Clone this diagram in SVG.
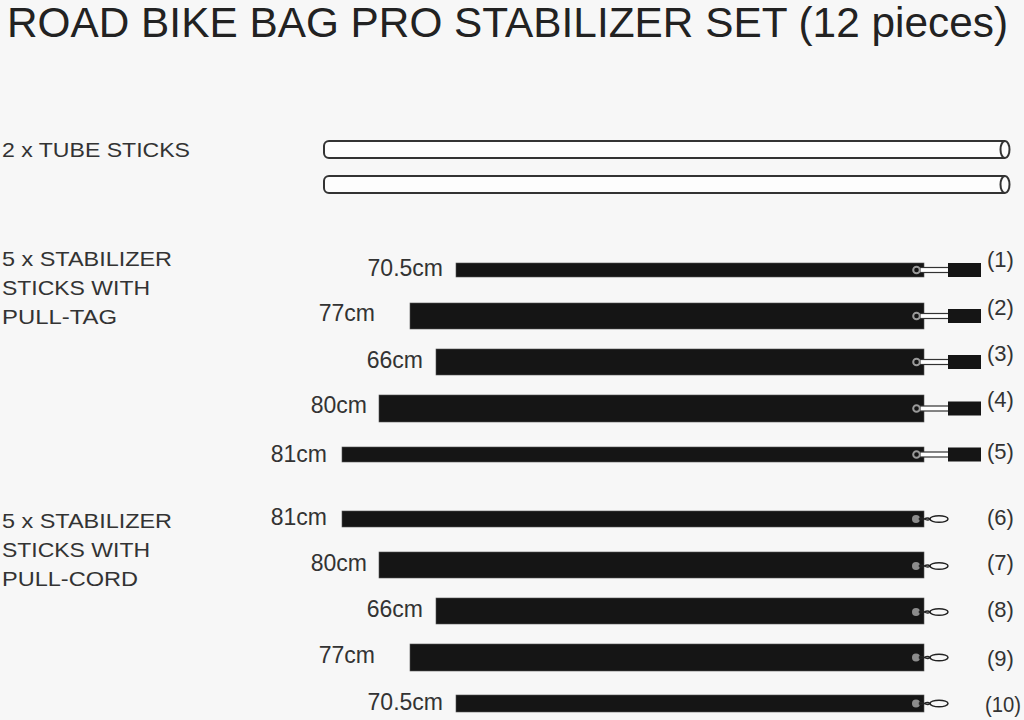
<svg xmlns="http://www.w3.org/2000/svg" xmlns:xlink="http://www.w3.org/1999/xlink" width="1024" height="720" viewBox="0 0 1024 720">
<style>
.t{font-family:"Liberation Sans Narrow","Liberation Sans",Arial,sans-serif;fill:#222}
.lbl{font-family:"Liberation Sans",Arial,sans-serif;fill:#333;font-size:21px}
.len{font-family:"Liberation Sans",Arial,sans-serif;fill:#333;font-size:23px;text-anchor:end}
.num{font-family:"Liberation Sans",Arial,sans-serif;fill:#333;font-size:22px}
.bar{fill:#151515;stroke:#555;stroke-width:0.6}
.tube{fill:#fdfdfd;stroke:#333;stroke-width:2}
</style>
<defs>
<g id="tag">
<rect x="920" y="-2.5" width="29" height="5" fill="#fff" stroke="#333" stroke-width="1.2"/>
<circle cx="916.5" cy="0" r="3.3" fill="none" stroke="#9a9a9a" stroke-width="2"/>
<rect x="948" y="-7" width="33" height="14" fill="#151515"/>
</g>
<g id="cord">
<circle cx="916" cy="0" r="4" fill="#8c8c8c"/>
<path d="M919,0 C922,-4 926,4 930,0 C926,-4 922,4 919,0" fill="none" stroke="#222" stroke-width="1.3"/>
<ellipse cx="939" cy="0" rx="9" ry="3.3" fill="none" stroke="#222" stroke-width="1.5"/>
</g>
</defs>
<rect width="1024" height="720" fill="#f7f7f7"/>
<text class="t" x="7" y="37" font-size="43" textLength="1001" lengthAdjust="spacingAndGlyphs">ROAD BIKE BAG PRO STABILIZER SET (12 pieces)</text>

<g id="labels">
<text class="lbl" x="2" y="157" textLength="188" lengthAdjust="spacingAndGlyphs">2 x TUBE STICKS</text>
<text class="lbl" x="2" y="266" textLength="170" lengthAdjust="spacingAndGlyphs">5 x STABILIZER</text>
<text class="lbl" x="2" y="295" textLength="148" lengthAdjust="spacingAndGlyphs">STICKS WITH</text>
<text class="lbl" x="2" y="324" textLength="115" lengthAdjust="spacingAndGlyphs">PULL-TAG</text>
<text class="lbl" x="2" y="528" textLength="170" lengthAdjust="spacingAndGlyphs">5 x STABILIZER</text>
<text class="lbl" x="2" y="557" textLength="148" lengthAdjust="spacingAndGlyphs">STICKS WITH</text>
<text class="lbl" x="2" y="586" textLength="136" lengthAdjust="spacingAndGlyphs">PULL-CORD</text>
</g>

<g id="tubes">
<path class="tube" d="M1005,141 H329 A5,5 0 0 0 324,146 V153 A5,5 0 0 0 329,158 H1005"/>
<ellipse class="tube" cx="1005" cy="149.5" rx="4.5" ry="8.5"/>
<path class="tube" d="M1005,176 H329 A5,5 0 0 0 324,181 V188 A5,5 0 0 0 329,193 H1005"/>
<ellipse class="tube" cx="1005" cy="184.5" rx="4.5" ry="8.5"/>
</g>

<g id="s1"><text class="len" x="443" y="276">70.5cm</text><rect class="bar" x="456" y="263" width="468" height="14"/><use xlink:href="#tag" transform="translate(0,270)"/><text class="num" x="987" y="267">(1)</text></g>
<g id="s2"><text class="len" x="375" y="321">77cm</text><rect class="bar" x="410" y="303" width="514" height="26"/><use xlink:href="#tag" transform="translate(0,316)"/><text class="num" x="987" y="315">(2)</text></g>
<g id="s3"><text class="len" x="423" y="368">66cm</text><rect class="bar" x="436" y="349" width="488" height="26"/><use xlink:href="#tag" transform="translate(0,362)"/><text class="num" x="987" y="361">(3)</text></g>
<g id="s4"><text class="len" x="367" y="413">80cm</text><rect class="bar" x="379" y="395" width="545" height="27"/><use xlink:href="#tag" transform="translate(0,408.5)"/><text class="num" x="987" y="407">(4)</text></g>
<g id="s5"><text class="len" x="327" y="462">81cm</text><rect class="bar" x="342" y="447" width="582" height="15"/><use xlink:href="#tag" transform="translate(0,454.5)"/><text class="num" x="987" y="459">(5)</text></g>

<g id="s6"><text class="len" x="327" y="525">81cm</text><rect class="bar" x="342" y="511" width="582" height="16"/><use xlink:href="#cord" transform="translate(0,519)"/><text class="num" x="987" y="525">(6)</text></g>
<g id="s7"><text class="len" x="367" y="571">80cm</text><rect class="bar" x="379" y="552" width="545" height="26"/><use xlink:href="#cord" transform="translate(0,566)"/><text class="num" x="987" y="570">(7)</text></g>
<g id="s8"><text class="len" x="423" y="617">66cm</text><rect class="bar" x="436" y="598" width="488" height="26"/><use xlink:href="#cord" transform="translate(0,612)"/><text class="num" x="987" y="617">(8)</text></g>
<g id="s9"><text class="len" x="375" y="663">77cm</text><rect class="bar" x="410" y="644" width="514" height="27"/><use xlink:href="#cord" transform="translate(0,657.5)"/><text class="num" x="987" y="666">(9)</text></g>
<g id="s10"><text class="len" x="443" y="710">70.5cm</text><rect class="bar" x="456" y="695" width="468" height="17"/><use xlink:href="#cord" transform="translate(0,703.5)"/><text class="num" x="985" y="712" textLength="36" lengthAdjust="spacingAndGlyphs">(10)</text></g>
</svg>
